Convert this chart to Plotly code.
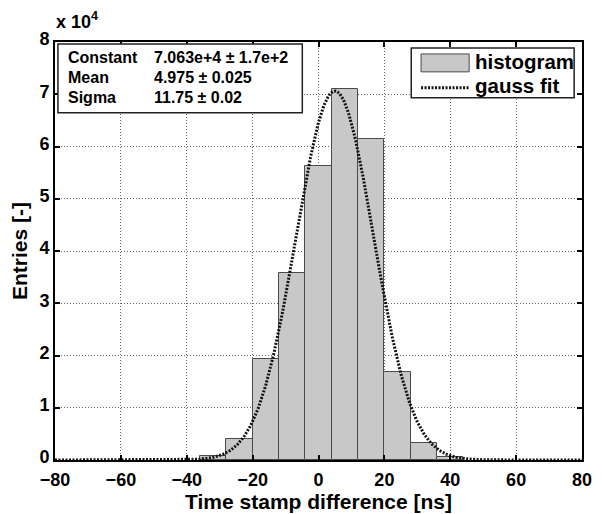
import numpy as np
import plotly.graph_objects as go

# ---- data ----
bin_centers = [-32, -24, -16, -8, 0, 8, 16, 24, 32, 40]
bin_counts = [700, 4100, 19300, 35800, 56200, 71000, 61400, 16900, 3300, 600]
bin_width = 8

# gauss fit parameters shown in the stats box
fit_constant = 7.063e4
fit_mean = 4.975
fit_sigma = 11.75

stat_names = ["Constant", "Mean", "Sigma"]
stat_values = ["7.063e+4 \u00b1 1.7e+2", "4.975 \u00b1 0.025", "11.75 \u00b1 0.02"]

x_ticks = [-80, -60, -40, -20, 0, 20, 40, 60, 80]
y_tickvals = [0, 10000, 20000, 30000, 40000, 50000, 60000, 70000, 80000]
y_ticktext = ["0", "1", "2", "3", "4", "5", "6", "7", "8"]

FONT = "Liberation Sans"
W, H = 602, 514
L, R, T, B = 55, 10, 42, 52
PW, PH = W - L - R, H - T - B


def fx(px):
    return (px - L) / PW


def fy(py):
    return (H - B - py) / PH


fit_x = np.linspace(-80, 80, 641)
fit_y = fit_constant * np.exp(-((fit_x - fit_mean) ** 2) / (2 * fit_sigma ** 2))

fig = go.Figure()
fig.add_trace(go.Bar(
    x=bin_centers, y=bin_counts, width=bin_width,
    marker=dict(color="#c8c8c8", line=dict(color="#4a4a4a", width=1)),
    name="histogram", showlegend=False,
))
fig.add_trace(go.Scatter(
    x=fit_x, y=fit_y, mode="lines",
    line=dict(color="#111111", width=3, dash="2px,1.5px"),
    name="gauss fit", showlegend=False,
))

axis_common = dict(
    showline=True, linecolor="black", linewidth=2, mirror="allticks",
    ticks="inside", ticklen=5, tickwidth=1.5, tickcolor="black",
    showgrid=True, gridcolor="#666666", gridwidth=1, griddash="1px,2px",
    zeroline=False,
    tickfont=dict(family=FONT, size=18, color="black", weight="bold"),
)

fig.update_xaxes(
    range=[-80, 80], tickvals=x_ticks,
    ticklabelstandoff=2,
    title=dict(text="Time stamp difference [ns]",
               font=dict(family=FONT, size=21, color="black", weight="bold"),
               standoff=0),
    **axis_common,
)
fig.update_yaxes(
    range=[0, 80000], tickvals=y_tickvals, ticktext=y_ticktext,
    ticklabelshift=-3,
    title=dict(text="Entries [-]",
               font=dict(family=FONT, size=21, color="black", weight="bold"),
               standoff=6),
    **axis_common,
)

shapes = []
annotations = []

# stats box
shapes.append(dict(type="rect", xref="paper", yref="paper",
                   x0=fx(58), x1=fx(307), y0=fy(113), y1=fy(44),
                   fillcolor="white", line=dict(color="#222222", width=1.5),
                   layer="above"))
for i, (nm, val) in enumerate(zip(stat_names, stat_values)):
    yc = fy(58 + i * 20)
    annotations.append(dict(xref="paper", yref="paper", x=fx(66), y=yc,
                            text=nm, showarrow=False, xanchor="left", yanchor="middle",
                            font=dict(family=FONT, size=16, color="black", weight="bold")))
    annotations.append(dict(xref="paper", yref="paper", x=fx(154), y=yc,
                            text=val, showarrow=False, xanchor="left", yanchor="middle",
                            font=dict(family=FONT, size=16, color="black", weight="bold")))

# legend box
shapes.append(dict(type="rect", xref="paper", yref="paper",
                   x0=fx(418), x1=fx(584), y0=fy(98), y1=fy(48),
                   fillcolor="white", line=dict(color="#222222", width=1.5),
                   layer="above"))
shapes.append(dict(type="rect", xref="paper", yref="paper",
                   x0=fx(428), x1=fx(477), y0=fy(72), y1=fy(54),
                   fillcolor="#c8c8c8", line=dict(color="#4a4a4a", width=1),
                   layer="above"))
shapes.append(dict(type="line", xref="paper", yref="paper",
                   x0=fx(428), x1=fx(477), y0=fy(88), y1=fy(88),
                   line=dict(color="#111111", width=3, dash="2px,1.5px"),
                   layer="above"))
annotations.append(dict(xref="paper", yref="paper", x=fx(481), y=fy(62),
                        text="histogram", showarrow=False, xanchor="left", yanchor="middle",
                        font=dict(family=FONT, size=20.5, color="black", weight="bold")))
annotations.append(dict(xref="paper", yref="paper", x=fx(481), y=fy(86),
                        text="gauss fit", showarrow=False, xanchor="left", yanchor="middle",
                        font=dict(family=FONT, size=20.5, color="black", weight="bold")))

# exponent label
annotations.append(dict(xref="paper", yref="paper", x=fx(54), y=fy(20),
                        text="x 10<sup>4</sup>", showarrow=False, xanchor="left", yanchor="middle",
                        font=dict(family=FONT, size=18, color="black", weight="bold")))

fig.update_layout(
    width=W, height=H,
    margin=dict(l=L, r=R, t=T, b=B),
    plot_bgcolor="white", paper_bgcolor="white",
    bargap=0, showlegend=False,
    shapes=shapes, annotations=annotations,
)

fig.write_html("out.html", config={"displayModeBar": False},
               post_script="document.body.style.margin='0';")
